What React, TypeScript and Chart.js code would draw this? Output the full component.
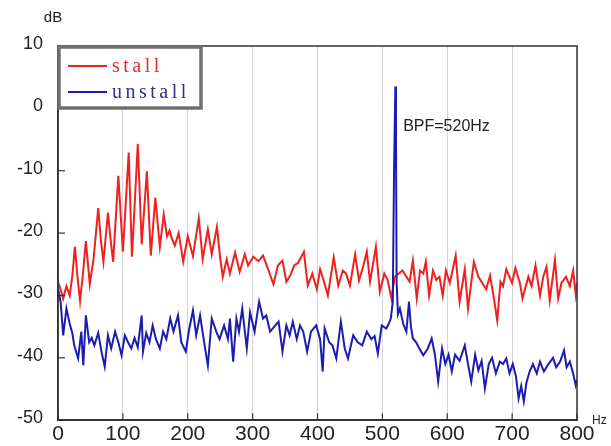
import React, { useEffect, useRef } from "react";
import { Chart, registerables } from "chart.js";
Chart.register(...registerables);

const stallFreq = [0,4,8,13,18,22,26,30,34,38,43,49,55,62,66,70,77,81,85,93,100,109,114,123,129,137,143,150,157,163,168,172,176,180,186,193,200,208,217,223,231,237,245,250,254,260,265,268,273,280,288,293,301,309,316,324,332,339,346,352,358,364,370,379,385,392,399,404,409,416,425,432,439,444,450,458,464,470,476,481,490,496,503,508,514,519,524,531,537,542,547,553,558,563,567,572,578,583,588,593,598,604,613,619,627,632,641,648,654,660,666,672,677,682,686,691,700,705,712,716,725,730,736,743,748,753,758,766,771,776,783,789,794,798,800];
const stallDb = [-27.8,-29,-30.5,-28.5,-30,-27,-22.2,-27,-30.9,-27,-21.3,-28.2,-24,-16,-21,-24.6,-16.7,-21,-24.6,-10.8,-23,-7.1,-23.8,-5.7,-21.8,-10.1,-23.6,-14.3,-22.2,-17,-20.5,-19.6,-21,-22,-20,-24.6,-20.5,-23.7,-17.6,-24.2,-19.4,-23.4,-19,-24,-27,-24.2,-26.5,-25.2,-23.1,-26.2,-23.4,-25.2,-23.8,-24.5,-23.6,-25.8,-28.2,-25.2,-24.4,-27.8,-26.8,-25.2,-24.8,-23,-28.4,-26.5,-29,-25.8,-27.4,-30,-23.9,-28.4,-26,-26.5,-28.4,-23.4,-27.6,-25.5,-23,-27.8,-22.2,-29.4,-26.5,-27.5,-30.5,-27,-26.6,-26,-27,-27.8,-24.4,-30.5,-26,-26.5,-24.6,-30,-26,-27.5,-27,-30,-26,-28,-23.6,-31,-25.8,-32.1,-24.6,-27,-28,-29,-26.8,-30.5,-34,-27.8,-28.5,-25.8,-28,-25.6,-28,-30.5,-27,-28.5,-25.2,-30,-27,-25.4,-30.8,-24.3,-30.5,-28,-27,-28.5,-26,-29.8,-28];

const unstallFreq = [0,4,8,13,18,22,25,31,36,39,43,48,52,56,62,67,72,77,82,88,93,98,103,108,113,118,123,129,131,136,141,146,151,157,162,167,173,178,185,190,197,202,208,213,219,226,231,237,244,249,256,262,265,270,275,279,284,291,296,303,310,316,321,327,335,340,346,352,357,362,368,373,378,384,390,398,404,408,411,418,423,429,436,442,447,455,462,469,476,483,488,493,499,506,510,513,516,518,520,521,522,524,527,532,537,541,544,547,552,557,563,570,576,581,586,592,597,602,607,612,619,627,632,637,643,648,653,658,664,669,675,681,686,691,696,701,706,710,714,718,722,727,732,738,743,749,756,763,768,774,780,784,789,794,798,800];
const unstallDb = [-28.9,-31,-36.4,-32.1,-34.5,-36,-38,-40.1,-35.8,-41.2,-33.2,-37.5,-36.8,-38,-36,-39,-41.4,-36.4,-38.5,-35.8,-37.5,-39.6,-36.4,-37.5,-38.5,-36.8,-38.3,-33.2,-39,-36,-37.5,-34.8,-37,-38.5,-35.8,-37,-33.7,-35.8,-33.2,-37.5,-39,-35.5,-32.4,-36.4,-33.2,-38,-41.2,-33.7,-35.8,-37,-34.8,-37,-33.7,-40.6,-33.7,-35.8,-32.1,-38.5,-32.7,-35.8,-31,-33.7,-33.2,-35.8,-34.8,-34.2,-39,-34.8,-36.4,-34.2,-37,-34.8,-35.8,-39,-35.8,-34.8,-37,-42.2,-35.3,-37.5,-38,-40.1,-34.2,-38.5,-40.1,-36.4,-37.5,-38,-35.8,-37,-36.5,-39.3,-34.8,-35.3,-34.5,-33.7,-31,-10,3.5,-5,-28,-33,-32.1,-34.5,-35.8,-31,-35,-36.9,-37.5,-38.5,-39.6,-38.5,-36.9,-39.5,-43.8,-38.5,-41,-39.5,-42.2,-39.5,-40.5,-38,-41,-43.8,-39.5,-42,-40.5,-44.9,-41,-40,-42.5,-40.6,-41,-40.1,-42.5,-41,-43,-46.5,-44.5,-47,-44,-42.2,-41,-42.5,-40.6,-42.2,-41,-40,-41.5,-40.6,-38.8,-41.5,-40.6,-42.5,-44.4,-43.5];

const seriesNames = ["stall", "unstall"];
const seriesColors = ["#ee2020", "#1c1cb0"];
const xTickValues = [0, 100, 200, 300, 400, 500, 600, 700, 800];
const yTickValues = [10, 0, -10, -20, -30, -40, -50];
const yUnit = "dB";
const xUnit = "Hz";
const annotationText = "BPF=520Hz";
const annotationFreq = 532;
const annotationDb = -3;

const overlayPlugin = {
  id: "overlay",
  afterDatasetsDraw(chart: any) {
    const { ctx, chartArea: a, scales } = chart;
    const xs = scales.x, ys = scales.y;
    ctx.save();
    // frame
    ctx.strokeStyle = "#333";
    ctx.lineWidth = 1.5;
    ctx.strokeRect(a.left, a.top, a.right - a.left, a.bottom - a.top);
    // inward ticks
    ctx.lineWidth = 1.2;
    yTickValues.forEach((v) => {
      const y = ys.getPixelForValue(v);
      ctx.beginPath(); ctx.moveTo(a.left, y); ctx.lineTo(a.left + 7, y); ctx.stroke();
    });
    xTickValues.forEach((v) => {
      const x = xs.getPixelForValue(v);
      ctx.beginPath(); ctx.moveTo(x, a.bottom); ctx.lineTo(x, a.bottom - 7); ctx.stroke();
    });
    // annotation
    ctx.fillStyle = "#222";
    ctx.font = "16px 'Liberation Sans', Arial, sans-serif";
    ctx.textBaseline = "middle";
    ctx.textAlign = "left";
    ctx.fillText(annotationText, xs.getPixelForValue(annotationFreq), ys.getPixelForValue(annotationDb));
    // units
    ctx.font = "15px 'Liberation Sans', Arial, sans-serif";
    ctx.textAlign = "center";
    ctx.fillText(yUnit, a.left - 5, a.top - 28);
    ctx.font = "12px 'Liberation Sans', Arial, sans-serif";
    ctx.textAlign = "left";
    ctx.fillText(xUnit, a.right + 15, a.bottom);
    // legend
    const lx = a.left, ly = a.top, lw = 144, lh = 63;
    ctx.fillStyle = "#fff";
    ctx.fillRect(lx, ly, lw, lh);
    ctx.strokeStyle = "#707070";
    ctx.lineWidth = 3.5;
    ctx.strokeRect(lx + 1, ly + 1, lw - 2, lh - 2);
    ctx.font = "20px 'Liberation Serif', 'Times New Roman', serif";
    (ctx as any).letterSpacing = "3.5px";
    seriesNames.forEach((name, i) => {
      const yy = ly + 20 + i * 26;
      ctx.strokeStyle = seriesColors[i];
      ctx.lineWidth = 1.8;
      ctx.beginPath(); ctx.moveTo(lx + 10, yy); ctx.lineTo(lx + 49, yy); ctx.stroke();
      ctx.fillStyle = i === 0 ? "#dd3030" : "#303095";
      ctx.fillText(name, lx + 54, yy + 1);
    });
    ctx.restore();
  },
};

export default function App() {
  const ref = useRef<HTMLCanvasElement>(null);
  useEffect(() => {
    if (!ref.current) return;
    const chart = new Chart(ref.current, {
      type: "line",
      data: {
        datasets: [
          {
            label: seriesNames[0],
            data: stallFreq.map((f, i) => ({ x: f, y: stallDb[i] })),
            borderColor: seriesColors[0],
            borderWidth: 2,
            pointRadius: 0,
            tension: 0,
            order: 1,
          },
          {
            label: seriesNames[1],
            data: unstallFreq.map((f, i) => ({ x: f, y: unstallDb[i] })),
            borderColor: seriesColors[1],
            borderWidth: 2,
            pointRadius: 0,
            tension: 0,
            order: 0,
          },
        ],
      },
      options: {
        responsive: false,
        animation: false,
        layout: { padding: { left: 0, top: 46, right: 34, bottom: 0 } },
        plugins: { legend: { display: false }, tooltip: { enabled: false } },
        scales: {
          x: {
            type: "linear",
            min: 0,
            max: 800,
            afterBuildTicks: (s: any) => { s.ticks = xTickValues.map((v) => ({ value: v })); },
            afterFit: (s: any) => { s.height = 24; },
            grid: { display: true, color: "#d4d4d4", lineWidth: 1, drawTicks: false },
            border: { display: true, color: "#333", width: 1.5 },
            ticks: { padding: 1, color: "#222", font: { size: 21, family: "'Liberation Sans', Arial, sans-serif" }, maxRotation: 0, autoSkip: false },
          },
          y: {
            type: "linear",
            min: -50,
            max: 10,
            afterBuildTicks: (s: any) => { s.ticks = yTickValues.map((v) => ({ value: v })); },
            afterFit: (s: any) => { s.width = 58; },
            grid: { display: false, drawTicks: false },
            border: { display: true, color: "#333", width: 1.5 },
            ticks: { padding: 15, labelOffset: -2, color: "#222", font: { size: 18, family: "'Liberation Sans', Arial, sans-serif" }, autoSkip: false },
          },
        },
      },
      plugins: [overlayPlugin],
    });
    return () => chart.destroy();
  }, []);
  return (
    <div style={{ position: "fixed", left: 0, top: 0, width: 611, height: 446, background: "#fff" }}>
      <canvas ref={ref} width={611} height={446} style={{ display: "block" }} />
    </div>
  );
}
